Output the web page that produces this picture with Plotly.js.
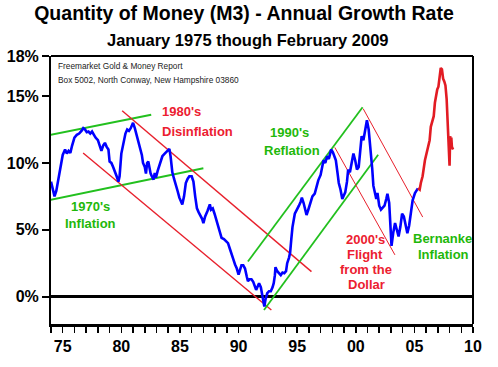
<!DOCTYPE html>
<html>
<head>
<meta charset="utf-8">
<script src="https://cdn.plot.ly/plotly-3.0.1.min.js"></script>
<style>html,body{margin:0;padding:0;background:#fff;}#chart{width:498px;height:367px;}</style>
</head>
<body>
<div id="chart"></div>
<script>
// ---- Data (decimal year, annual % growth of M3) ----
const m3Years = [1974.0,1974.15,1974.3,1974.45,1974.6,1974.8,1975.0,1975.2,1975.35,1975.5,1975.65,1975.8,1976.0,1976.2,1976.4,1976.6,1976.75,1976.9,1977.05,1977.2,1977.35,1977.5,1977.65,1977.8,1978.0,1978.15,1978.3,1978.45,1978.6,1978.75,1978.9,1979.0,1979.15,1979.3,1979.45,1979.6,1979.75,1979.85,1980.0,1980.2,1980.35,1980.5,1980.65,1980.8,1981.0,1981.15,1981.3,1981.45,1981.6,1981.75,1981.85,1982.0,1982.1,1982.2,1982.3,1982.4,1982.5,1982.6,1982.75,1982.85,1982.95,1983.1,1983.3,1983.5,1983.7,1983.9,1984.1,1984.2,1984.35,1984.5,1984.65,1984.8,1984.95,1985.1,1985.2,1985.35,1985.5,1985.65,1985.8,1986.0,1986.15,1986.3,1986.45,1986.6,1986.75,1986.9,1987.0,1987.15,1987.35,1987.55,1987.65,1987.8,1987.95,1988.1,1988.25,1988.4,1988.55,1988.75,1988.9,1989.1,1989.25,1989.4,1989.55,1989.7,1989.85,1990.0,1990.1,1990.25,1990.4,1990.55,1990.7,1990.8,1990.95,1991.1,1991.25,1991.35,1991.5,1991.6,1991.75,1991.9,1992.0,1992.1,1992.2,1992.3,1992.45,1992.6,1992.75,1992.9,1993.0,1993.1,1993.15,1993.3,1993.45,1993.6,1993.75,1993.9,1994.05,1994.15,1994.3,1994.4,1994.5,1994.6,1994.8,1995.0,1995.15,1995.3,1995.4,1995.55,1995.7,1995.8,1995.95,1996.1,1996.3,1996.5,1996.65,1996.8,1997.0,1997.15,1997.25,1997.4,1997.55,1997.7,1997.9,1998.05,1998.2,1998.3,1998.45,1998.55,1998.7,1998.85,1998.95,1999.1,1999.25,1999.35,1999.5,1999.65,1999.8,1999.95,2000.1,2000.25,2000.4,2000.5,2000.65,2000.8,2000.95,2001.1,2001.25,2001.4,2001.5,2001.6,2001.75,2001.85,2002.0,2002.15,2002.3,2002.45,2002.6,2002.7,2002.85,2002.95,2003.05,2003.2,2003.35,2003.5,2003.65,2003.8,2003.95,2004.1,2004.25,2004.4,2004.55,2004.7,2004.85,2005.05,2005.2,2005.3];
const m3Growth = [8.6,8.0,7.5,7.9,8.7,9.8,10.6,11.0,10.7,10.9,10.75,11.3,11.9,12.1,12.2,12.4,12.6,12.5,12.3,12.35,12.2,12.35,12.1,11.9,11.7,11.3,10.9,11.3,11.5,11.2,11.0,10.1,10.0,9.7,9.4,9.0,8.6,9.0,10.7,11.7,12.2,12.5,12.4,12.6,13.0,12.6,12.1,11.6,11.0,10.6,10.0,9.7,9.2,10.0,10.1,9.6,9.2,9.0,8.75,9.24,8.9,9.4,10.0,10.5,10.7,10.9,11.05,10.5,9.3,8.8,8.4,7.9,7.4,7.0,6.9,7.5,8.5,8.8,9.0,9.0,8.6,7.5,6.6,6.3,6.1,5.8,5.5,6.0,6.4,6.9,6.5,6.6,6.2,5.7,5.3,4.8,4.4,4.3,4.2,4.0,3.6,3.1,2.8,2.4,2.1,1.65,2.0,2.35,2.35,2.1,1.5,1.15,1.3,1.3,1.1,0.8,0.5,0.7,1.0,0.7,0.3,-0.3,-0.75,-0.2,0.25,0.4,0.4,0.7,1.0,1.6,2.2,1.9,1.7,1.6,1.8,1.75,1.9,2.5,2.9,3.3,4.3,5.2,6.2,6.5,6.8,7.1,7.4,7.0,6.4,6.1,6.5,6.9,7.5,7.7,8.3,8.7,9.1,9.7,10.2,10.0,10.5,10.3,11.0,10.8,10.5,10.2,9.2,8.5,8.0,7.3,7.5,7.8,8.6,9.5,9.3,10.0,10.7,10.2,9.5,9.7,11.3,12.0,11.7,12.6,13.2,12.5,11.3,9.6,8.3,7.8,7.3,7.75,6.8,6.5,6.7,6.8,7.3,7.7,7.0,5.5,3.8,4.8,5.5,5.0,4.5,5.2,6.2,6.0,5.3,4.75,5.3,6.2,7.2,7.75,8.0,8.1];
// Estimated continuation after official M3 reporting (red)
const estYears = [2005.3,2005.45,2005.55,2005.7,2005.9,2006.05,2006.2,2006.3,2006.4,2006.55,2006.65,2006.75,2006.85,2006.95,2007.05,2007.15,2007.25,2007.35,2007.45,2007.55,2007.65,2007.75,2007.85,2007.95,2008.0,2008.05,2008.1,2008.15,2008.2,2008.3];
const estGrowth = [8.1,8.0,8.5,9.0,10.2,10.7,11.2,11.7,12.7,13.2,13.5,14.5,15.2,15.5,15.7,16.5,17.1,17.0,16.3,16.1,15.8,14.8,13.2,11.5,9.8,12.0,11.5,11.9,11.2,11.0];

// ---- Trend channels (endpoints, decimal year / %) ----
const green70sUpperX = [1973.4, 1982.55], green70sUpperY = [12.0, 13.6];
const green70sLowerX = [1973.2, 1987.0],  green70sLowerY = [7.1, 9.6];
const red80sUpperX   = [1980.07, 1996.22], red80sUpperY = [13.9, 1.87];
const red80sLowerX   = [1976.74, 1992.8],  red80sLowerY = [10.74, -1.0];
const green90sUpperX = [1990.8, 2000.58],  green90sUpperY = [2.62, 14.16];
const green90sLowerX = [1992.17, 2001.91], green90sLowerY = [-1.0, 10.61];
const red00sUpperX   = [2000.63, 2005.71], red00sUpperY = [14.06, 5.95];
const red00sLowerX   = [1998.21, 2003.34], red00sLowerY = [11.16, 3.12];

// ---- Ticks ----
const xTickVals = [];
const xTickText = [];
for (let yr = 1974; yr <= 2010; yr++) { xTickVals.push(yr); }
const xLabelMap = {1975:'75',1980:'80',1985:'85',1990:'90',1995:'95',2000:'00',2005:'05',2010:'10'};
xTickVals.forEach(v => xTickText.push(xLabelMap[v] || ''));
const yTickVals = [0, 5, 10, 15, 18];
const yTickText = ['0%', '5%', '10%', '15%', '18%'];

// ---- Annotation labels ----
const labelTexts = ["1980's", "Disinflation", "1970's", "Inflation", "1990's", "Reflation", "2000's", "Flight", "from the", "Dollar", "Bernanke", "Inflation"];

const GREEN = '#22c01e';
const RED = '#e8202c';
const TXT_GREEN = '#1fb80a';
const TXT_RED = '#ec2030';

function seg(x, y, color, w) {
  return {x: x, y: y, mode: 'lines', type: 'scatter', line: {color: color, width: w}, hoverinfo: 'skip'};
}

const traces = [
  seg(green70sUpperX, green70sUpperY, GREEN, 2),
  seg(green70sLowerX, green70sLowerY, GREEN, 2),
  seg(red80sUpperX, red80sUpperY, RED, 1.4),
  seg(red80sLowerX, red80sLowerY, RED, 1.4),
  seg(green90sUpperX, green90sUpperY, GREEN, 1.8),
  seg(green90sLowerX, green90sLowerY, GREEN, 1.8),
  seg(red00sUpperX, red00sUpperY, RED, 1),
  seg(red00sLowerX, red00sLowerY, RED, 1),
  {x: m3Years, y: m3Growth, mode: 'lines', type: 'scatter', line: {color: '#0000ff', width: 2.6}},
  {x: estYears, y: estGrowth, mode: 'lines', type: 'scatter', line: {color: '#e21b23', width: 2.6}}
];

function lab(text, x, y, color, anchor) {
  return {text: text, x: x, y: y, xref: 'x', yref: 'y', showarrow: false, xanchor: anchor || 'center', yanchor: 'middle',
    font: {family: 'Arial, Liberation Sans, sans-serif', size: 13, color: color, weight: 'bold'}};
}

const annotations = [
  lab(labelTexts[0], 1983.27, 13.84, TXT_RED, 'left'),
  lab(labelTexts[1], 1983.27, 12.34, TXT_RED, 'left'),
  lab(labelTexts[2], 1977.36, 6.72, TXT_GREEN),
  lab(labelTexts[3], 1977.36, 5.45, TXT_GREEN),
  lab(labelTexts[4], 1994.35, 12.24, TXT_GREEN),
  lab(labelTexts[5], 1994.55, 10.91, TXT_GREEN),
  lab(labelTexts[6], 2000.8, 4.3, TXT_RED),
  lab(labelTexts[7], 2000.8, 3.12, TXT_RED),
  lab(labelTexts[8], 2000.9, 2.05, TXT_RED),
  lab(labelTexts[9], 2000.9, 0.88, TXT_RED),
  lab(labelTexts[10], 2007.4, 4.37, TXT_GREEN),
  lab(labelTexts[11], 2007.5, 3.12, TXT_GREEN),
  {text: 'January 1975 though February 2009', xref: 'paper', yref: 'paper', x: 0.467, y: 1, yshift: 16.5,
   xanchor: 'center', yanchor: 'middle', showarrow: false,
   font: {family: 'Arial, Liberation Sans, sans-serif', size: 16.5, color: '#000', weight: 'bold'}},
  {text: 'Freemarket Gold &amp; Money Report', xref: 'paper', yref: 'paper', x: 0.011, y: 0.962,
   xanchor: 'left', yanchor: 'middle', showarrow: false,
   font: {family: 'Arial, Liberation Sans, sans-serif', size: 8.3, color: '#222'}},
  {text: 'Box 5002, North Conway, New Hampshire 03860', xref: 'paper', yref: 'paper', x: 0.011, y: 0.911,
   xanchor: 'left', yanchor: 'middle', showarrow: false,
   font: {family: 'Arial, Liberation Sans, sans-serif', size: 8.3, color: '#222'}}
];

const tickFont = {family: 'Arial, Liberation Sans, sans-serif', size: 16, color: '#000', weight: 'bold'};

const layout = {
  width: 498, height: 367,
  margin: {l: 51, r: 25, t: 56, b: 43, pad: 0},
  paper_bgcolor: '#fff', plot_bgcolor: '#fff',
  showlegend: false, hovermode: false,
  title: {text: 'Quantity of Money (M3) - Annual Growth Rate', x: 0.49, xanchor: 'center', y: 0.963, yref: 'container', yanchor: 'middle',
    font: {family: 'Arial, Liberation Sans, sans-serif', size: 19.5, color: '#000', weight: 'bold'}},
  xaxis: {range: [1974, 2010], tickmode: 'array', tickvals: xTickVals, ticktext: xTickText,
    ticks: 'outside', ticklen: 6, tickwidth: 1.5, tickcolor: '#000',
    showline: true, linewidth: 3, linecolor: '#000', showgrid: false, zeroline: false,
    tickfont: tickFont, fixedrange: true},
  yaxis: {range: [-2.05, 18], tickmode: 'array', tickvals: yTickVals, ticktext: yTickText,
    ticks: 'outside', ticklen: 7, tickwidth: 2, tickcolor: '#000',
    showline: true, linewidth: 2, linecolor: '#000', showgrid: false,
    zeroline: true, zerolinecolor: '#000', zerolinewidth: 3,
    tickfont: tickFont, fixedrange: true},
  shapes: [
    {type: 'line', xref: 'paper', yref: 'paper', x0: 0, x1: 1, y0: 1, y1: 1, line: {color: '#000', width: 2}},
    {type: 'line', xref: 'paper', yref: 'paper', x0: 1, x1: 1, y0: 0, y1: 1, line: {color: '#000', width: 2}}
  ],
  annotations: annotations
};

Plotly.newPlot('chart', traces, layout, {staticPlot: true, displayModeBar: false});
</script>
</body>
</html>
